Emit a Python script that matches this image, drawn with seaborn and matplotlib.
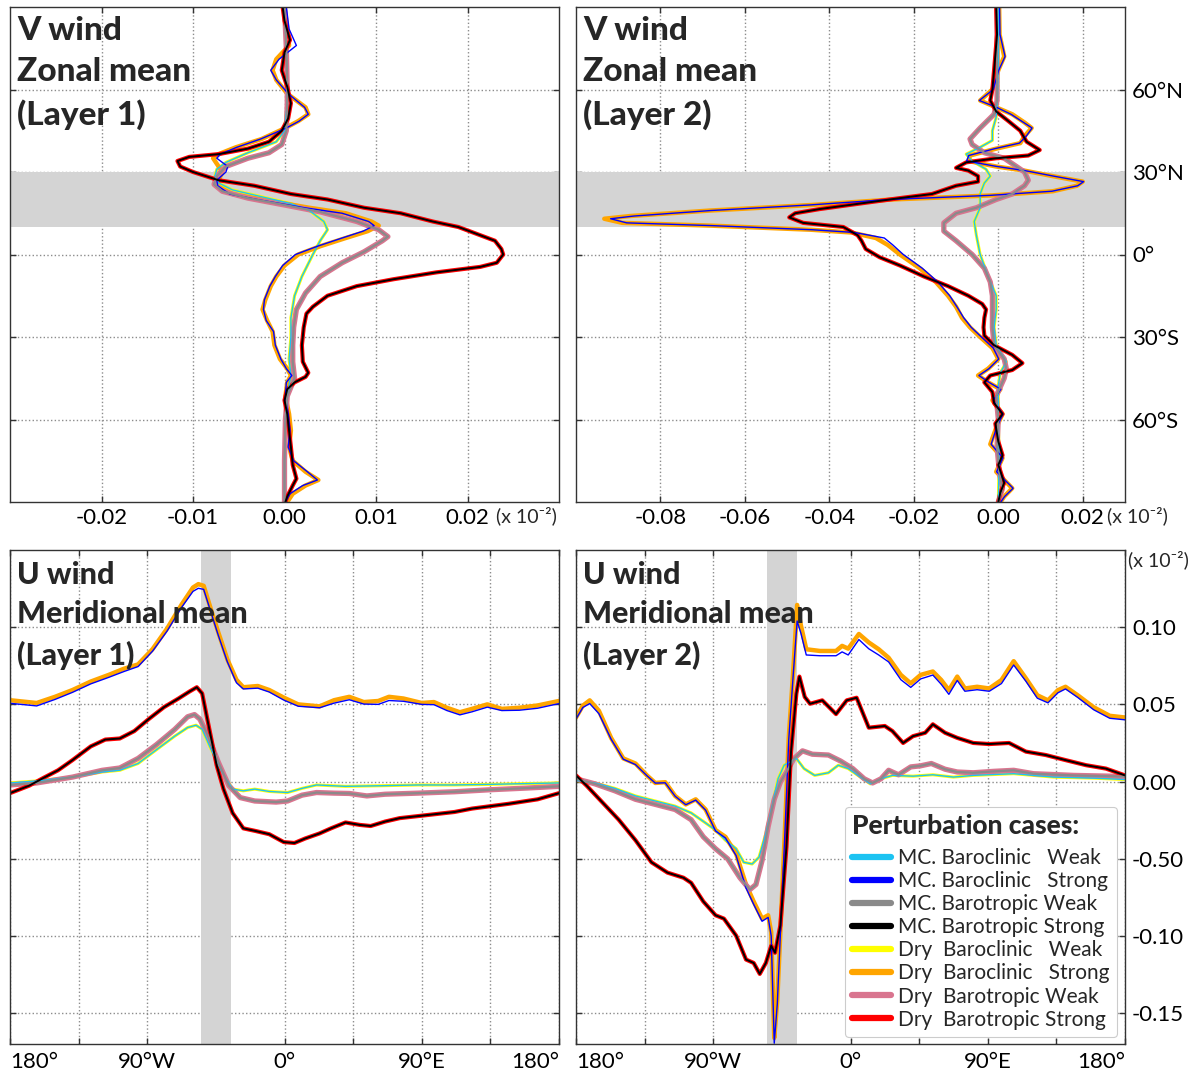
"""
V wind (zonal mean) and U wind (meridional mean) responses for the eight perturbation cases.
"""

import matplotlib

matplotlib.use("Agg")
import matplotlib.pyplot as plt
from matplotlib.lines import Line2D
import seaborn as sns

sns.set_theme(style="ticks", context="paper")
plt.rcParams["font.family"] = ["Lato", "DejaVu Sans"]
plt.rcParams.update(
    {
        "axes.edgecolor": "#333333",
        "axes.linewidth": 1.0,
        "xtick.labelsize": 16,
        "ytick.labelsize": 16,
        "xtick.color": "#333333",
        "ytick.color": "#333333",
        "xtick.labelcolor": "black",
        "ytick.labelcolor": "black",
    }
)

# ---------------------------------------------------------------- cases
CASES = [
    "MC. Baroclinic   Weak",
    "MC. Baroclinic   Strong",
    "MC. Barotropic Weak",
    "MC. Barotropic Strong",
    "Dry  Baroclinic   Weak",
    "Dry  Baroclinic   Strong",
    "Dry  Barotropic Weak",
    "Dry  Barotropic Strong",
]

# ---------------------------------------------------------------- axis ticks
LAT_TICKS = [-60, -30, 0, 30, 60]
LAT_LABELS = ["60°S", "30°S", "0°", "30°N", "60°N"]
L1_V_TICKS = [-0.02, -0.01, 0.00, 0.01, 0.02]
L1_V_LABELS = ["-0.02", "-0.01", "0.00", "0.01", "0.02"]
L2_V_TICKS = [-0.08, -0.06, -0.04, -0.02, 0.00, 0.02]
L2_V_LABELS = ["-0.08", "-0.06", "-0.04", "-0.02", "0.00", "0.02"]
LON_TICKS = [-180, -135, -90, -45, 0, 45, 90, 135, 180]
LON_LABELS = ["180°", "", "90°W", "", "0°", "", "90°E", "", "180°"]
U_TICKS = [-0.15, -0.10, -0.05, 0.00, 0.05, 0.10]
U_LABELS = ["-0.15", "-0.10", "-0.50", "0.00", "0.05", "0.10"]

# ================================================================ V wind, layer 1
tl_bts_lat = [90, 85, 78, 73.5, 67, 61, 55, 49.5, 45, 41, 38.5, 36.5, 35.5, 34, 32, 30, 27, 25,
              22, 20, 17, 15, 12, 10, 7, 5, 2, 0, -3, -4.5, -6.5, -9, -11.5, -15, -19, -21.5,
              -26.5, -33, -39, -43, -44.5, -46.5, -49, -53, -58, -64, -70, -76.5, -81.5, -84,
              -88, -90]
tl_bts_v = [-0.0002, 0.0, 0.0006, 0.0, -0.0003, 0.0003, 0.0007, 0.0004, -0.0003, -0.0017,
            -0.0040, -0.0072, -0.0104, -0.0117, -0.0114, -0.0100, -0.0072, -0.0033, 0.0007,
            0.0047, 0.0087, 0.0127, 0.0162, 0.0190, 0.0214, 0.0230, 0.0237, 0.0239, 0.0232,
            0.0214, 0.0166, 0.0119, 0.0079, 0.0047, 0.0031, 0.0024, 0.0021, 0.0019, 0.0020,
            0.0026, 0.0023, 0.0011, 0.0003, 0.0, 0.0003, 0.0005, 0.0007, 0.0009, 0.0013,
            0.0009, 0.0003, 0.0001]

tl_bcs_lat = [90, 82, 76, 71, 67, 63.5, 58.5, 53.5, 51, 48.5, 46, 42, 39, 36.5, 35, 32, 30,
              27, 25, 22, 20, 17, 15, 12, 10.5, 8.5, 6, 3, 0, -4, -8, -11.5, -16.5, -20, -24,
              -28, -33, -38, -41.5, -44, -46.5, -51.5, -58, -64, -70, -75, -79, -82, -84, -87,
              -90]
tl_bcs_v = [0.0, 0.0003, 0.0005, -0.0009, -0.0013, -0.0009, 0.0003, 0.0023, 0.0026, 0.0015,
            0.0001, -0.0025, -0.0053, -0.0072, -0.0078, -0.0072, -0.0068, -0.0072, -0.0074,
            -0.0057, -0.0025, 0.0027, 0.0067, 0.0095, 0.0103, 0.0091, 0.0067, 0.0039, 0.0015,
            0.0, -0.0009, -0.0015, -0.0021, -0.0024, -0.0019, -0.0013, -0.0011, -0.0005,
            0.0003, 0.0007, 0.0003, 0.0001, 0.0005, 0.0007, 0.0005, 0.0009, 0.0023, 0.0037,
            0.0023, 0.0009, 0.0003]
tl_mc_bcs_v = [0.0002, 0.0005, 0.0013, -0.0006, -0.0015, -0.0009, 0.0004, 0.0022, 0.0026,
               0.0016, 0.0002, -0.0026, -0.0052, -0.0070, -0.0074, -0.0062, -0.0064, -0.0074,
               -0.0073, -0.0060, -0.0030, 0.0022, 0.0063, 0.0092, 0.0098, 0.0086, 0.0063,
               0.0036, 0.0012, -0.0002, -0.0010, -0.0016, -0.0022, -0.0023, -0.0020, -0.0012,
               -0.0010, -0.0004, 0.0002, 0.0008, 0.0002, 0.0001, 0.0004, 0.0006, 0.0004,
               0.0010, 0.0025, 0.0036, 0.0020, 0.0006, 0.0001]

tl_bcw_lat = [90, 75, 60, 55, 45, 41, 37, 33.5, 31, 28.5, 26, 23.5, 21, 18.5, 16, 12, 9, 5, 0,
              -8, -15, -23, -30, -38, -44, -49, -60, -75, -90]
tl_bcw_v = [0.0, 0.0002, 0.0003, 0.0003, 0.0, -0.0009, -0.0040, -0.0064, -0.0074, -0.0076,
            -0.0072, -0.0057, -0.0025, 0.0007, 0.0027, 0.0043, 0.0047, 0.0039, 0.0031, 0.0019,
            0.0011, 0.0007, 0.0007, 0.0005, 0.0007, 0.0004, 0.0001, 0.0, 0.0]

tl_btw_lat = [90, 75, 60, 55, 45, 40, 37, 35, 32, 28.5, 25.5, 23, 20.5, 18, 15.5, 12, 9, 6.5,
              5, 1, -3, -8, -14, -20, -26.5, -33, -39, -45, -51.5, -60, -75, -90]
tl_btw_v = [0.0, 0.0002, 0.0003, 0.0003, 0.0002, -0.0003, -0.0017, -0.0040, -0.0064, -0.0074,
            -0.0077, -0.0068, -0.0040, 0.0, 0.0039, 0.0079, 0.0103, 0.0113, 0.0107, 0.0087,
            0.0063, 0.0039, 0.0023, 0.0013, 0.0010, 0.0009, 0.0009, 0.0011, 0.0003, 0.0001,
            0.0, 0.0]

# ================================================================ V wind, layer 2
tr_bts_lat = [90, 80, 67, 60, 56, 52, 48.5, 45, 41, 38, 36, 35, 33.5, 31.5, 30.5, 28.5, 26.5,
              25, 22, 20.5, 18.5, 16.5, 15, 13.5, 11.5, 10, 7, 5, 2, -1, -4, -8, -11.5, -15,
              -18, -20, -23, -26.5, -29.5, -33, -36.5, -39.5, -42, -44, -46.5, -50, -54, -58,
              -61.5, -68, -73, -76.5, -83, -86.5, -90]
tr_bts_v = [-0.0005, -0.0003, -0.0010, -0.0014, -0.0019, -0.0005, 0.0024, 0.0052, 0.0067,
            0.0098, 0.0071, -0.0005, -0.0076, -0.0100, -0.0071, -0.0048, -0.0048, -0.0100,
            -0.0157, -0.0233, -0.0329, -0.0424, -0.0481, -0.0495, -0.0462, -0.0367, -0.0333,
            -0.0324, -0.0314, -0.0281, -0.0233, -0.0176, -0.0119, -0.0071, -0.0038, -0.0029,
            -0.0033, -0.0035, -0.0033, -0.0010, 0.0033, 0.0057, 0.0033, -0.0019, -0.0033,
            -0.0014, -0.0010, 0.0010, -0.0007, 0.0, 0.0010, 0.0, 0.0014, 0.0005, 0.0]

tr_bcs_lat = [90, 80, 72, 67, 60, 56, 53.5, 51, 48, 46, 43, 40.5, 38.5, 36, 34, 32, 30.5,
              28.5, 26.5, 25, 23, 21.5, 20, 18, 16, 14, 13, 11.5, 10.5, 9, 8, 6, 3.5, 0, -5,
              -10, -15, -19, -23, -26.5, -30, -34, -38, -41.5, -44, -46.5, -49, -53, -58, -63,
              -69, -74, -79, -85, -88, -90]
tr_bcs_v = [0.0002, 0.0003, 0.0014, 0.0, -0.0014, -0.0043, -0.0005, 0.0033, 0.0062, 0.0079,
            0.0062, 0.0052, -0.0005, -0.0067, -0.0071, -0.0005, 0.0062, 0.0129, 0.0200,
            0.0186, 0.0129, -0.0014, -0.0252, -0.0443, -0.0681, -0.0871, -0.0933, -0.0890,
            -0.0681, -0.0443, -0.0348, -0.0290, -0.0262, -0.0233, -0.0186, -0.0148, -0.0119,
            -0.0100, -0.0086, -0.0067, -0.0043, -0.0014, 0.0, -0.0024, -0.0048, -0.0024,
            0.0005, -0.0014, 0.0010, -0.0005, -0.0019, 0.0010, -0.0005, 0.0033, 0.0014,
            0.0005]
tr_mc_bcs_v = [0.0003, 0.0004, 0.0016, 0.0001, -0.0012, -0.0045, -0.0004, 0.0030, 0.0060,
               0.0080, 0.0066, 0.0050, -0.0008, -0.0070, -0.0075, -0.0003, 0.0063, 0.0131,
               0.0202, 0.0188, 0.0127, -0.0020, -0.0258, -0.0448, -0.0680, -0.0862, -0.0918,
               -0.0880, -0.0678, -0.0440, -0.0340, -0.0270, -0.0250, -0.0225, -0.0180,
               -0.0143, -0.0115, -0.0098, -0.0082, -0.0064, -0.0040, -0.0012, 0.0001, -0.0022,
               -0.0046, -0.0022, 0.0006, -0.0012, 0.0011, -0.0004, -0.0017, 0.0011, -0.0004,
               0.0035, 0.0015, 0.0006]

tr_bcw_lat = [90, 70, 56, 50, 45, 41.5, 39, 36.5, 34, 31, 28.5, 26, 22, 17, 12, 7, 0, -8, -15,
              -20, -26.5, -33, -39, -43, -47.5, -60, -75, -90]
tr_bcw_v = [0.0, 0.0, -0.0002, -0.0005, -0.0014, -0.0014, -0.0043, -0.0076, -0.0062, -0.0029,
            -0.0019, -0.0033, -0.0043, -0.0043, -0.0057, -0.0052, -0.0043, -0.0024, -0.0005,
            -0.0005, -0.0010, -0.0005, 0.0019, 0.0005, 0.0, 0.0, 0.0002, 0.0]

tr_btw_lat = [90, 70, 56, 51, 46, 42, 40, 37, 35, 32, 30, 27, 25, 22, 20, 17, 15, 11.5, 8.5, 5,
              0, -5, -10, -15, -20, -26.5, -33, -38, -41.5, -45, -51.5, -60, -70, -80, -85,
              -90]
tr_btw_v = [-0.0003, -0.0003, -0.0003, -0.0010, -0.0043, -0.0067, -0.0062, -0.0033, 0.0014,
            0.0043, 0.0062, 0.0071, 0.0062, 0.0033, -0.0005, -0.0052, -0.0100, -0.0129,
            -0.0129, -0.0100, -0.0062, -0.0033, -0.0019, -0.0014, -0.0014, -0.0014, -0.0010,
            0.0014, 0.0019, 0.0014, -0.0005, 0.0, -0.0003, 0.0003, 0.0010, 0.0]

# ================================================================ U wind, layer 1
bl_bcs_lon = [-180, -162.5, -150.5, -139, -127, -115, -105.5, -96, -86.5, -77, -67.5, -60,
              -56.5, -53, -48.5, -43.5, -37.5, -31.5, -27, -17.5, -10, -0.5, 9, 23, 32.5, 42.5,
              52, 61.5, 68.5, 78, 90, 98, 106.5, 115, 123, 133, 142.5, 154, 166, 180]
bl_bcs_u = [0.0527, 0.0509, 0.0549, 0.0593, 0.0648, 0.0692, 0.0730, 0.0759, 0.0858, 0.0991,
            0.1146, 0.1257, 0.1279, 0.1268, 0.1124, 0.0969, 0.0792, 0.0659, 0.0611, 0.0619,
            0.0593, 0.0544, 0.0500, 0.0487, 0.0527, 0.0549, 0.0515, 0.0522, 0.0549, 0.0538,
            0.0509, 0.0515, 0.0478, 0.0449, 0.0471, 0.0500, 0.0471, 0.0478, 0.0493, 0.0522]
bl_mc_bcs_u = [0.0507, 0.0490, 0.0532, 0.0578, 0.0633, 0.0676, 0.0712, 0.0745, 0.0845,
               0.0975, 0.1128, 0.1232, 0.1252, 0.1245, 0.1105, 0.0950, 0.0776, 0.0640, 0.0600,
               0.0605, 0.0580, 0.0528, 0.0488, 0.0478, 0.0508, 0.0530, 0.0502, 0.0500, 0.0525,
               0.0520, 0.0500, 0.0498, 0.0460, 0.0432, 0.0452, 0.0482, 0.0460, 0.0462, 0.0475,
               0.0505]

bl_bts_lon = [-180, -167.5, -158, -148.5, -139, -127, -117.5, -108, -98.5, -89, -79, -69.5,
              -62.5, -57.5, -54, -49.5, -44.5, -40, -34, -27, -19.5, -10, -0.5, 6.5, 13.5, 23,
              30.5, 40, 49.5, 56.5, 66, 75.5, 90, 111.5, 123, 147, 166, 180]
bl_bts_u = [-0.0075, -0.0027, 0.0024, 0.0073, 0.0139, 0.0228, 0.0272, 0.0279, 0.0327, 0.0405,
            0.0482, 0.0538, 0.0582, 0.0611, 0.0571, 0.0350, 0.0106, -0.0049, -0.0204, -0.0303,
            -0.0319, -0.0341, -0.0392, -0.0398, -0.0369, -0.0336, -0.0303, -0.0265, -0.0281,
            -0.0288, -0.0259, -0.0237, -0.0221, -0.0197, -0.0175, -0.0144, -0.0115, -0.0075]

bl_btw_lon = [-180, -162.5, -139, -119.5, -108, -96, -84, -72, -63.5, -59, -55.5, -50.5,
              -43.5, -36.5, -29, -19.5, -5.5, 2, 11.5, 21, 32.5, 42.5, 54, 66, 87.5, 111.5,
              135, 159, 180]
bl_btw_u = [-0.0022, -0.0009, 0.0029, 0.0073, 0.0088, 0.0150, 0.0239, 0.0338, 0.0420, 0.0434,
            0.0405, 0.0305, 0.0128, -0.0027, -0.0104, -0.0126, -0.0133, -0.0126, -0.0088,
            -0.0071, -0.0075, -0.0077, -0.0093, -0.0082, -0.0075, -0.0066, -0.0053, -0.0042,
            -0.0031]

bl_bcw_lon = [-180, -162.5, -139, -119.5, -108, -96, -84, -72, -63.5, -58, -54, -48.5, -41,
              -34, -27, -19.5, -10, 2, 11.5, 21, 40, 63.5, 87.5, 111.5, 135, 159, 180]
bl_bcw_u = [-0.0009, 0.0004, 0.0029, 0.0062, 0.0073, 0.0117, 0.0206, 0.0294, 0.0350, 0.0365,
            0.0339, 0.0217, 0.0062, -0.0049, -0.0060, -0.0049, -0.0064, -0.0071, -0.0044,
            -0.0022, -0.0031, -0.0027, -0.0022, -0.0022, -0.0018, -0.0013, -0.0009]

# ================================================================ U wind, layer 2
br_bcs_lon = [-180, -175.5, -171, -165, -157, -149, -141, -133.5, -128, -121.5, -115, -108,
              -101.5, -95, -88.5, -82, -75, -68.5, -63.5, -58, -54, -52, -50, -48, -45.5, -43,
              -40.5, -37.5, -35, -32.5, -29, -20, -9.5, -5.5, -1.5, 5.5, 12, 18.5, 25, 33,
              39.5, 46, 54, 59.5, 64.5, 70, 75, 83, 91, 99, 107, 115, 122.5, 129.5, 136, 141,
              149, 159.5, 170, 180]
br_bcs_u = [0.0415, 0.0492, 0.0526, 0.0459, 0.0283, 0.0150, 0.0117, 0.0040, -0.0009, -0.0004,
            -0.0093, -0.0148, -0.0115, -0.0181, -0.0314, -0.0358, -0.0468, -0.0667, -0.0777,
            -0.0888, -0.0866, -0.0976, -0.1661, -0.1418, -0.0866, -0.0314, 0.0283, 0.0724,
            0.1144, 0.1011, 0.0857, 0.0846, 0.0846, 0.0879, 0.0861, 0.0956, 0.0901, 0.0857,
            0.0802, 0.0691, 0.0636, 0.0691, 0.0713, 0.0658, 0.0592, 0.0680, 0.0603, 0.0614,
            0.0603, 0.0658, 0.0780, 0.0669, 0.0559, 0.0526, 0.0592, 0.0614, 0.0559, 0.0481,
            0.0426, 0.0415]
br_mc_bcs_u = [0.0405, 0.0480, 0.0505, 0.0440, 0.0275, 0.0145, 0.0110, 0.0038, -0.0010,
               -0.0008, -0.0095, -0.0150, -0.0120, -0.0185, -0.0320, -0.0365, -0.0480, -0.0690,
               -0.0795, -0.0905, -0.0880, -0.1000, -0.1695, -0.1440, -0.0880, -0.0330, 0.0270,
               0.0700, 0.1040, 0.0960, 0.0820, 0.0815, 0.0815, 0.0840, 0.0820, 0.0920, 0.0860,
               0.0820, 0.0775, 0.0660, 0.0610, 0.0665, 0.0690, 0.0630, 0.0565, 0.0655, 0.0585,
               0.0595, 0.0585, 0.0635, 0.0755, 0.0650, 0.0540, 0.0510, 0.0575, 0.0600, 0.0545,
               0.0465, 0.0410, 0.0400]

br_bts_lon = [-180, -173, -162.5, -152, -141, -130.5, -120, -109.5, -104.5, -96.5, -88.5, -83,
              -75, -68.5, -63.5, -59.5, -55.5, -52, -49.5, -46, -42, -39, -35.5, -33.5, -30,
              -26.5, -18.5, -9.5, -2.5, 4, 12, 22.5, 27.5, 34.5, 41, 49, 54, 62, 70, 80.5, 91,
              104, 115, 128, 141, 154.5, 167.5, 180]
br_bts_u = [0.0040, -0.0027, -0.0137, -0.0247, -0.0380, -0.0523, -0.0590, -0.0623, -0.0656,
            -0.0777, -0.0866, -0.0888, -0.0998, -0.1153, -0.1175, -0.1246, -0.1175, -0.1064,
            -0.1109, -0.0932, -0.0424, 0.0194, 0.0570, 0.0680, 0.0548, 0.0504, 0.0526, 0.0437,
            0.0526, 0.0543, 0.0349, 0.0360, 0.0327, 0.0250, 0.0294, 0.0316, 0.0371, 0.0316,
            0.0283, 0.0250, 0.0243, 0.0250, 0.0194, 0.0172, 0.0139, 0.0106, 0.0084, 0.0040]

br_btw_lon = [-180, -167.5, -154.5, -141, -128, -115, -104.5, -96.5, -88.5, -80.5, -72.5, -66,
              -62, -58, -54, -50, -46, -42, -37, -31.5, -25, -14.5, -6.5, 1.5, 9, 14.5, 20,
              25, 31.5, 39.5, 46, 53, 62, 70, 80.5, 93.5, 107, 120, 146.5, 180]
br_btw_u = [0.0018, -0.0015, -0.0060, -0.0115, -0.0148, -0.0181, -0.0247, -0.0358, -0.0435,
            -0.0501, -0.0623, -0.0700, -0.0667, -0.0512, -0.0292, -0.0115, -0.0004, 0.0062,
            0.0150, 0.0199, 0.0177, 0.0172, 0.0133, 0.0084, 0.0018, -0.0009, 0.0018, 0.0073,
            0.0044, 0.0095, 0.0102, 0.0117, 0.0080, 0.0062, 0.0057, 0.0066, 0.0073, 0.0051,
            0.0040, 0.0033]

br_bcw_lon = [-180, -167.5, -154.5, -141, -128, -115, -104.5, -96.5, -88.5, -82, -75, -70,
              -64.5, -60, -55.5, -51.5, -47.5, -43.5, -39.5, -35.5, -30.5, -23.5, -14.5, -8,
              -1.5, 6.5, 13, 20, 27.5, 41, 54, 67.5, 80.5, 107, 133, 159.5, 180]
br_bcw_u = [0.0007, -0.0009, -0.0044, -0.0093, -0.0126, -0.0159, -0.0203, -0.0258, -0.0314,
            -0.0380, -0.0435, -0.0523, -0.0534, -0.0490, -0.0336, -0.0159, 0.0018, 0.0106,
            0.0128, 0.0150, 0.0084, 0.0040, 0.0057, 0.0106, 0.0084, 0.0029, -0.0015, 0.0018,
            0.0040, 0.0035, 0.0044, 0.0029, 0.0040, 0.0051, 0.0029, 0.0022, 0.0013]

# ---------------------------------------------------------------- case -> curve
# MC and Dry curves coincide except for the baroclinic strong pair
TL = {
    CASES[0]: (tl_bcw_v, tl_bcw_lat), CASES[1]: (tl_mc_bcs_v, tl_bcs_lat),
    CASES[2]: (tl_btw_v, tl_btw_lat), CASES[3]: (tl_bts_v, tl_bts_lat),
    CASES[4]: (tl_bcw_v, tl_bcw_lat), CASES[5]: (tl_bcs_v, tl_bcs_lat),
    CASES[6]: (tl_btw_v, tl_btw_lat), CASES[7]: (tl_bts_v, tl_bts_lat),
}
TR = {
    CASES[0]: (tr_bcw_v, tr_bcw_lat), CASES[1]: (tr_mc_bcs_v, tr_bcs_lat),
    CASES[2]: (tr_btw_v, tr_btw_lat), CASES[3]: (tr_bts_v, tr_bts_lat),
    CASES[4]: (tr_bcw_v, tr_bcw_lat), CASES[5]: (tr_bcs_v, tr_bcs_lat),
    CASES[6]: (tr_btw_v, tr_btw_lat), CASES[7]: (tr_bts_v, tr_bts_lat),
}
BL = {
    CASES[0]: (bl_bcw_lon, bl_bcw_u), CASES[1]: (bl_bcs_lon, bl_mc_bcs_u),
    CASES[2]: (bl_btw_lon, bl_btw_u), CASES[3]: (bl_bts_lon, bl_bts_u),
    CASES[4]: (bl_bcw_lon, bl_bcw_u), CASES[5]: (bl_bcs_lon, bl_bcs_u),
    CASES[6]: (bl_btw_lon, bl_btw_u), CASES[7]: (bl_bts_lon, bl_bts_u),
}
BR = {
    CASES[0]: (br_bcw_lon, br_bcw_u), CASES[1]: (br_bcs_lon, br_mc_bcs_u),
    CASES[2]: (br_btw_lon, br_btw_u), CASES[3]: (br_bts_lon, br_bts_u),
    CASES[4]: (br_bcw_lon, br_bcw_u), CASES[5]: (br_bcs_lon, br_bcs_u),
    CASES[6]: (br_btw_lon, br_btw_u), CASES[7]: (br_bts_lon, br_bts_u),
}

# styling: colour, line width
STYLE = {
    CASES[0]: ("#1cc3f2", 1.0),
    CASES[1]: ("#0000ff", 1.0),
    CASES[2]: ("#8a8a8a", 1.6),
    CASES[3]: ("#000000", 1.4),
    CASES[4]: ("#ffff00", 2.2),
    CASES[5]: ("#ffa500", 3.2),
    CASES[6]: ("#d9758f", 3.8),
    CASES[7]: ("#ff0000", 3.0),
}
DRAW_ORDER = [CASES[i] for i in (4, 5, 6, 7, 0, 1, 2, 3)]

W, H = 1201, 1076
fig = plt.figure(figsize=(W / 100, H / 100), dpi=100)


def box(x0, y0, x1, y1):
    return [x0 / W, 1 - y1 / H, (x1 - x0) / W, (y1 - y0) / H]


ax_tl = fig.add_axes(box(10, 7, 559, 502))
ax_tr = fig.add_axes(box(576, 7, 1125, 502))
ax_bl = fig.add_axes(box(10, 550, 559, 1044))
ax_br = fig.add_axes(box(576, 550, 1125, 1044))


def draw_curves(ax, curves, vertical):
    for case in DRAW_ORDER:
        x, y = curves[case]
        color, lw = STYLE[case]
        sns.lineplot(
            x=x, y=y, orient="y" if vertical else "x", sort=False, estimator=None,
            color=color, lw=lw, ax=ax, legend=False,
        )


def style_axes(ax, right_labels):
    ax.set_axisbelow(True)
    ax.grid(True, ls=":", lw=1.0, color="#8c8c8c")
    ax.tick_params(direction="in", length=4, width=1, top=True, right=True)
    ax.tick_params(axis="x", pad=4)
    ax.tick_params(axis="y", pad=5, labelleft=False, labelright=right_labels)
    ax.set_xlabel("")
    ax.set_ylabel("")
    for s in ax.spines.values():
        s.set_visible(True)


# ---- top panels: V wind
for ax, curves, xlim, ticks, labels, layer, right in (
    (ax_tl, TL, (-0.03, 0.03), L1_V_TICKS, L1_V_LABELS, 1, False),
    (ax_tr, TR, (-0.10, 0.03), L2_V_TICKS, L2_V_LABELS, 2, True),
):
    ax.axhspan(10, 30, color="#d4d4d4", lw=0, zorder=1)
    draw_curves(ax, curves, vertical=True)
    ax.set_xlim(*xlim)
    ax.set_ylim(-90, 90)
    ax.set_xticks(ticks, labels)
    ax.set_yticks(LAT_TICKS, LAT_LABELS)
    style_axes(ax, right)
    ax.text(0.013, 0.982, f"V wind\nZonal mean\n(Layer {layer})",
            transform=ax.transAxes, zorder=5, fontsize=24, fontweight="black",
            va="top", ha="left", linespacing=1.5)

# ---- bottom panels: U wind
for ax, curves, layer, right in ((ax_bl, BL, 1, False), (ax_br, BR, 2, True)):
    ax.axvspan(-55, -35, color="#d4d4d4", lw=0, zorder=1)
    draw_curves(ax, curves, vertical=False)
    ax.set_xlim(-180, 180)
    ax.set_ylim(-0.17, 0.15)
    ax.set_xticks(LON_TICKS, LON_LABELS)
    ax.set_yticks(U_TICKS, U_LABELS)
    style_axes(ax, right)
    ax.tick_params(axis="x", pad=6)
    xl = ax.get_xticklabels()
    xl[0].set_ha("left")
    xl[-1].set_ha("right")
    ax.text(0.013, 0.978, f"U wind\nMeridional mean\n(Layer {layer})",
            transform=ax.transAxes, zorder=5, fontsize=22, fontweight="black",
            va="top", ha="left", linespacing=1.5)

# ---- unit labels
UNIT = "(x 10⁻²)"
fig.text(496 / W, 1 - 516 / H, UNIT, fontsize=14, va="center", ha="left")
fig.text(1107 / W, 1 - 516 / H, UNIT, fontsize=14, va="center", ha="left")
fig.text(1128 / W, 1 - 560 / H, UNIT, fontsize=14, va="center", ha="left")

# ---- legend
handles = [Line2D([], [], color=STYLE[c][0], lw=4.5) for c in CASES]
leg = ax_br.legend(
    handles, CASES, title="Perturbation cases:", loc="lower right",
    bbox_to_anchor=(0.9854, 0.0142), borderaxespad=0, fontsize=15,
    title_fontproperties={"weight": "black", "size": 19}, alignment="left",
    handlelength=1.85, handletextpad=0.35, labelspacing=0.15, borderpad=0.35,
    frameon=True, fancybox=True, edgecolor="#cccccc", framealpha=1,
)
leg._legend_box.sep = 7
leg.set_zorder(6)

fig.savefig("out.png", dpi=100)
